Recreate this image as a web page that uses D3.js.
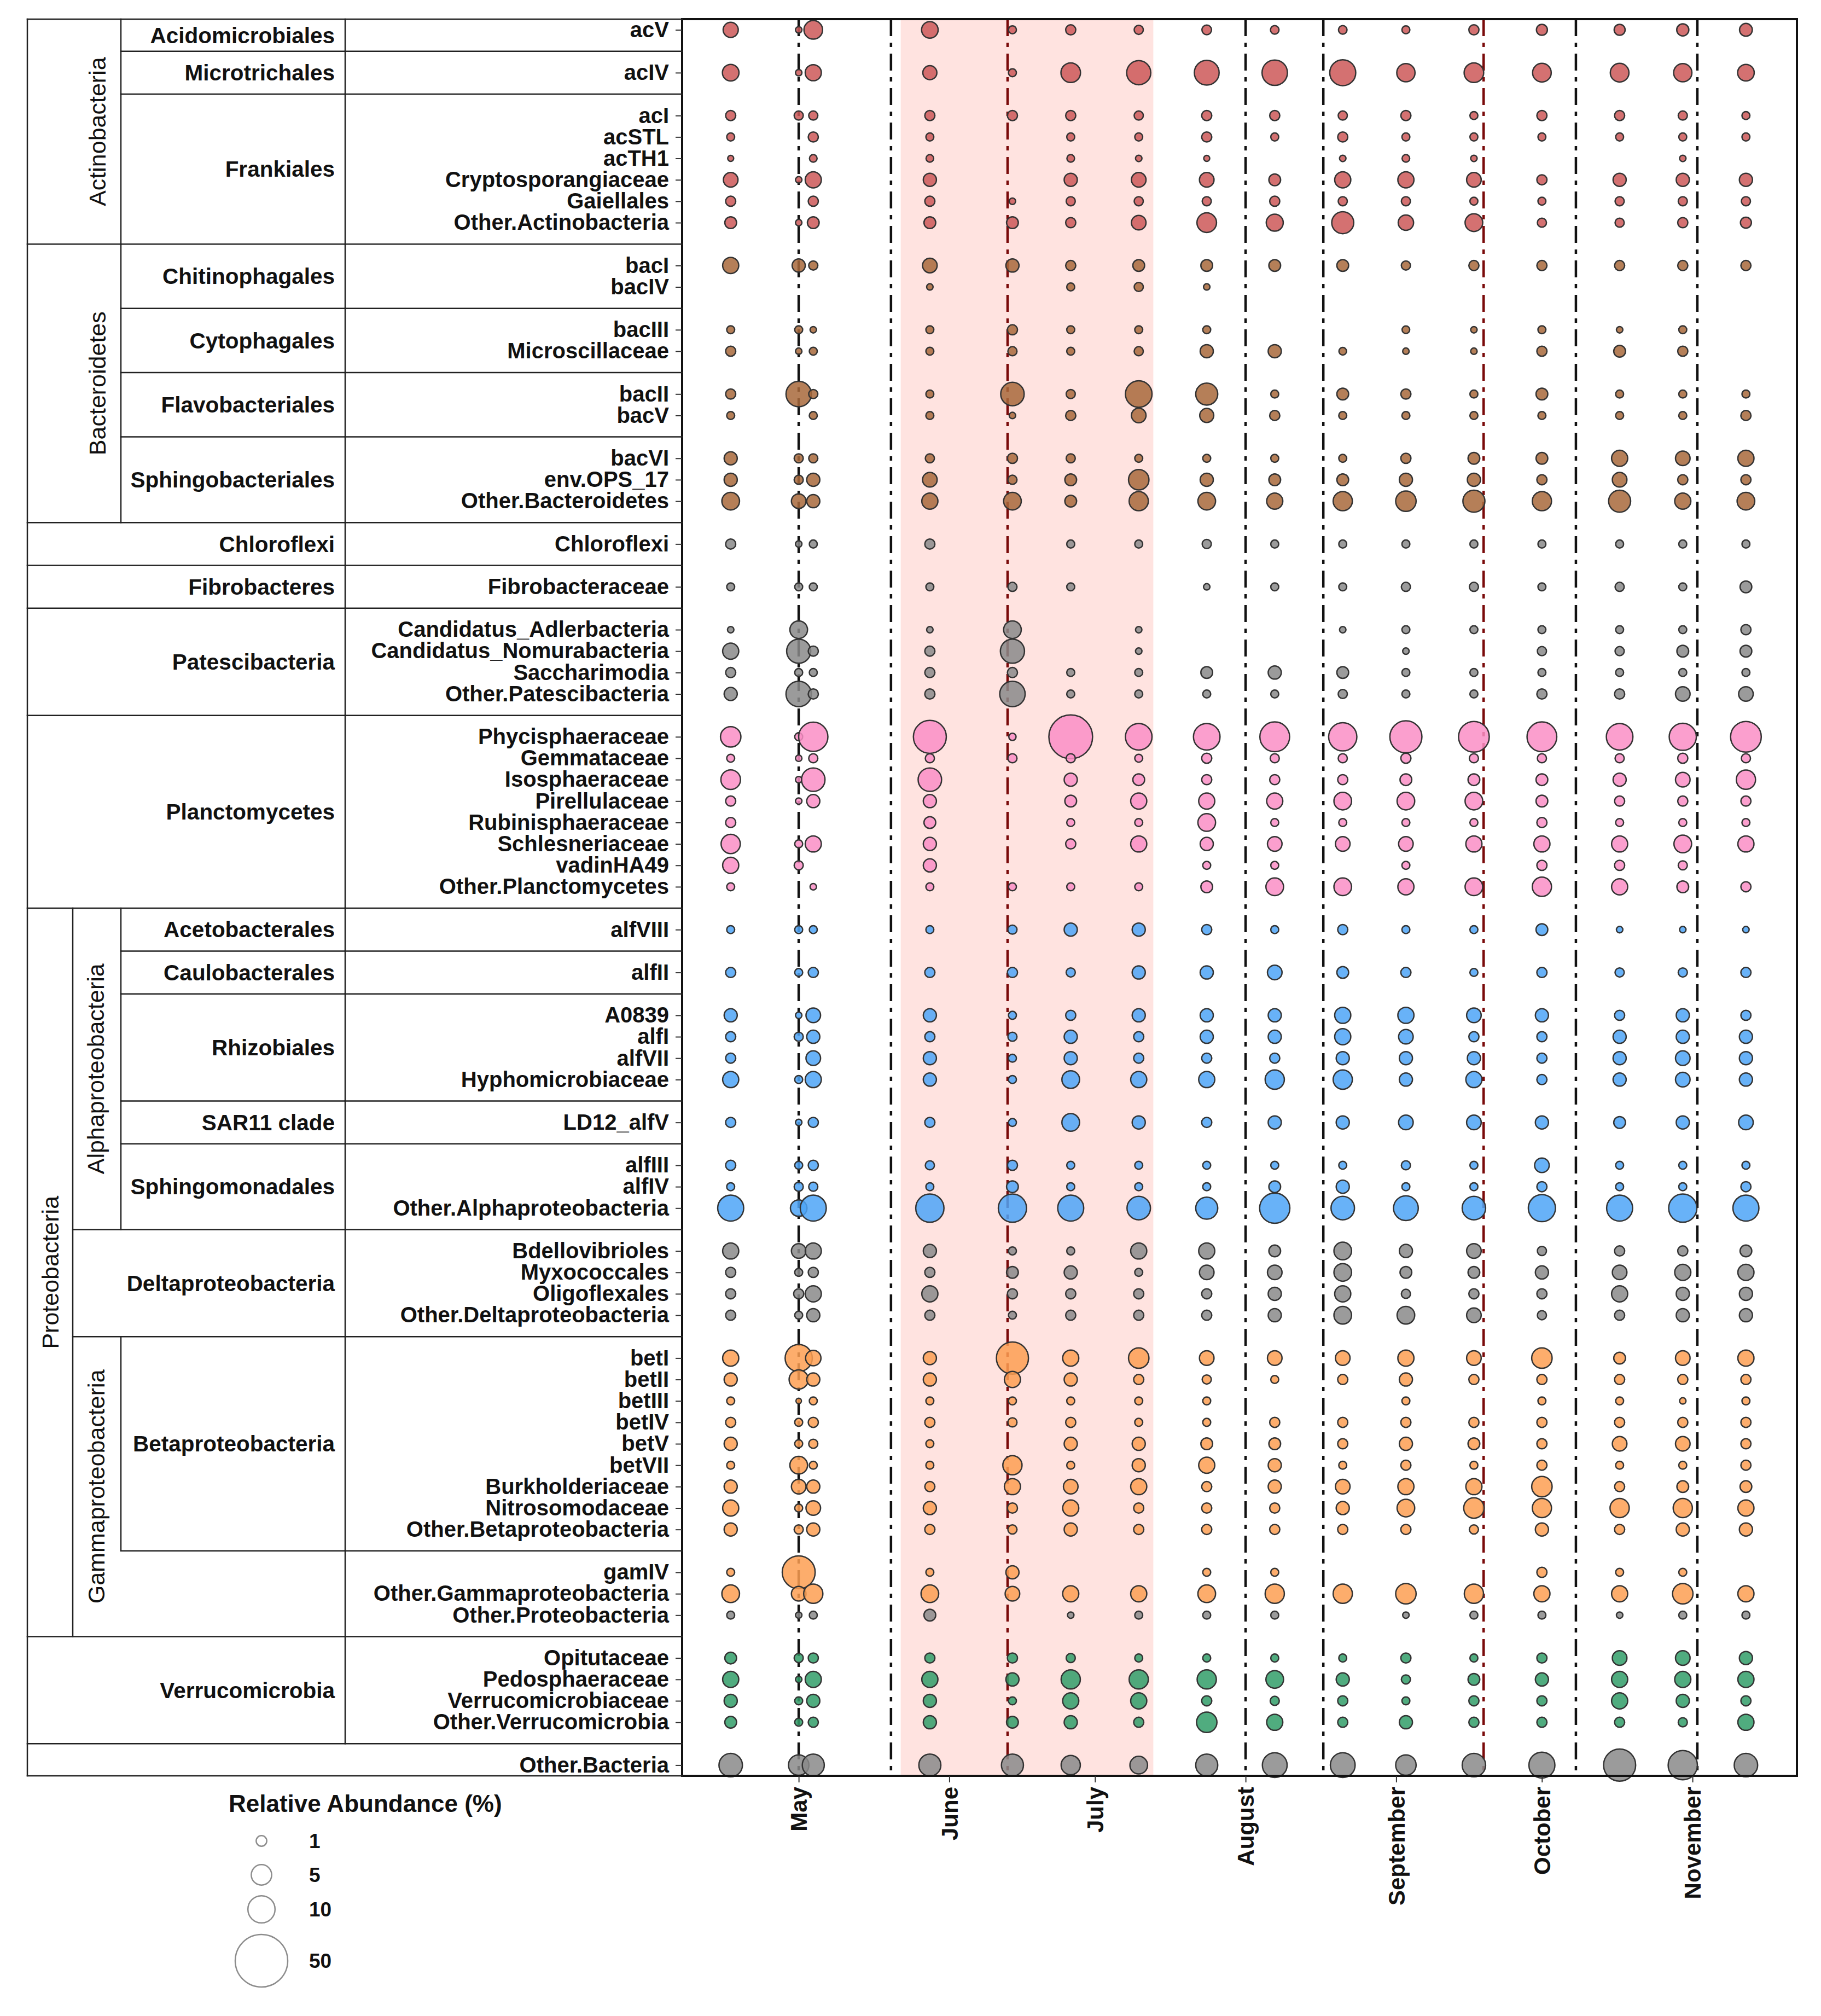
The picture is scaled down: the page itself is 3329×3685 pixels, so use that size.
<!DOCTYPE html>
<html>
<head>
<meta charset="utf-8">
<script src="https://cdn.jsdelivr.net/npm/d3@7"></script>
<style>
  html, body { margin: 0; padding: 0; background: #fff; }
  svg { display: block; }
</style>
</head>
<body>
<div id="chart"></div>
<script>
// sampling dates, one column of bubbles each
const sampleDates = ["2019-04-17", "2019-05-01", "2019-05-04", "2019-05-28", "2019-06-14", "2019-06-26",
  "2019-07-10", "2019-07-24", "2019-08-07", "2019-08-21", "2019-09-03", "2019-09-17",
  "2019-10-01", "2019-10-17", "2019-10-30", "2019-11-12"];
const monthTicks = ["2019-05-01", "2019-06-01", "2019-07-01", "2019-08-01", "2019-09-01", "2019-10-01", "2019-11-01"];
const blackLineDates = ["2019-05-01", "2019-05-20", "2019-08-01", "2019-08-17", "2019-10-08", "2019-11-02"];
const redLineDates = ["2019-06-13", "2019-09-19"];
const shadedPeriod = ["2019-05-22", "2019-07-13"];

// one entry per order cell of the table on the left
const orderLabels = ["Acidomicrobiales", "Microtrichales", "Frankiales", "Chitinophagales", "Cytophagales",
  "Flavobacteriales", "Sphingobacteriales", "Chloroflexi", "Fibrobacteres", "Patescibacteria", "Planctomycetes",
  "Acetobacterales", "Caulobacterales", "Rhizobiales", "SAR11 clade", "Sphingomonadales", "Deltaproteobacteria",
  "Betaproteobacteria", "", "Verrucomicrobia", ""];
const blockPhylum = ["Actinobacteria", "Actinobacteria", "Actinobacteria", "Bacteroidetes", "Bacteroidetes",
  "Bacteroidetes", "Bacteroidetes", "Chloroflexi", "Fibrobacteres", "Patescibacteria", "Planctomycetes",
  "Proteobacteria", "Proteobacteria", "Proteobacteria", "Proteobacteria", "Proteobacteria", "Proteobacteria",
  "Proteobacteria", "Proteobacteria", "Verrucomicrobia", "Other"];
const blockClass = ["", "", "", "", "", "", "", "", "", "", "",
  "Alphaproteobacteria", "Alphaproteobacteria", "Alphaproteobacteria", "Alphaproteobacteria", "Alphaproteobacteria",
  "Deltaproteobacteria", "Gammaproteobacteria", "Gammaproteobacteria", "", ""];
const blockTaxa = [
  ["acV"], ["acIV"],
  ["acI", "acSTL", "acTH1", "Cryptosporangiaceae", "Gaiellales", "Other.Actinobacteria"],
  ["bacI", "bacIV"], ["bacIII", "Microscillaceae"], ["bacII", "bacV"],
  ["bacVI", "env.OPS_17", "Other.Bacteroidetes"],
  ["Chloroflexi"], ["Fibrobacteraceae"],
  ["Candidatus_Adlerbacteria", "Candidatus_Nomurabacteria", "Saccharimodia", "Other.Patescibacteria"],
  ["Phycisphaeraceae", "Gemmataceae", "Isosphaeraceae", "Pirellulaceae", "Rubinisphaeraceae", "Schlesneriaceae",
    "vadinHA49", "Other.Planctomycetes"],
  ["alfVIII"], ["alfII"], ["A0839", "alfI", "alfVII", "Hyphomicrobiaceae"], ["LD12_alfV"],
  ["alfIII", "alfIV", "Other.Alphaproteobacteria"],
  ["Bdellovibrioles", "Myxococcales", "Oligoflexales", "Other.Deltaproteobacteria"],
  ["betI", "betII", "betIII", "betIV", "betV", "betVII", "Burkholderiaceae", "Nitrosomodaceae",
    "Other.Betaproteobacteria"],
  ["gamIV", "Other.Gammaproteobacteria", "Other.Proteobacteria"],
  ["Opitutaceae", "Pedosphaeraceae", "Verrucomicrobiaceae", "Other.Verrucomicrobia"],
  ["Other.Bacteria"]
];

// relative abundance (%), rows in the order of blockTaxa, columns in the order of sampleDates
const actinoValues = [
  [2.4, 0.3, 4, 3, 0.5, 0.9, 0.7, 0.8, 0.6, 0.6, 0.5, 0.9, 1.1, 1.1, 1.4, 1.6],
  [3, 0.3, 2.8, 2, 0.5, 4.5, 7.5, 8, 8.5, 9, 3.8, 4.5, 4, 4, 3.8, 3],
  [0.9, 0.7, 0.7, 0.9, 0.9, 0.9, 0.7, 0.9, 0.9, 0.7, 0.9, 0.5, 0.9, 0.9, 0.7, 0.5],
  [0.5, 0, 0.9, 0.5, 0, 0.5, 0.5, 0.9, 0.5, 0.9, 0.5, 0.5, 0.5, 0.5, 0.5, 0.5],
  [0.25, 0, 0.45, 0.45, 0, 0.45, 0.3, 0.25, 0, 0.3, 0.45, 0.3, 0, 0, 0.3, 0],
  [2.2, 0.3, 2.8, 1.7, 0, 1.7, 2.2, 2.2, 1.3, 2.8, 2.8, 2.2, 0.9, 1.7, 1.7, 1.7],
  [0.9, 0, 0.9, 0.9, 0.3, 0.7, 0.7, 0.7, 0.9, 0.7, 0.7, 0.5, 0.5, 0.7, 0.7, 0.7],
  [1.3, 0.3, 1.3, 1.3, 1.3, 0.9, 2.2, 4.5, 3.2, 6, 2.5, 3.5, 0.7, 0.7, 0.9, 1.1]
];
const bacteroValues = [
  [2.8, 1.7, 0.7, 2.2, 1.7, 0.9, 1.3, 1.3, 1.3, 1.3, 0.7, 0.9, 0.9, 0.9, 0.9, 0.9],
  [0, 0, 0, 0.3, 0, 0.5, 0.7, 0.3, 0, 0, 0, 0, 0, 0, 0, 0],
  [0.5, 0.5, 0.3, 0.5, 0.9, 0.5, 0.5, 0.5, 0, 0, 0.45, 0.3, 0.5, 0.3, 0.5, 0],
  [0.9, 0.3, 0.5, 0.5, 0.7, 0.5, 0.7, 1.7, 1.7, 0.45, 0.3, 0.3, 0.9, 1.3, 0.9, 0],
  [0.9, 8.5, 0.7, 0.5, 7, 0.7, 9.5, 6, 0.5, 1.3, 0.9, 0.5, 1.3, 0.5, 0.5, 0.5],
  [0.5, 0, 0.5, 0.5, 0.3, 0.9, 2.2, 2, 0.9, 0.5, 0.5, 0.5, 0.5, 0.5, 0.5, 0.9],
  [1.7, 0.7, 0.7, 0.7, 0.9, 0.7, 0.5, 0.5, 0.5, 0.5, 0.9, 1.3, 1.3, 2.8, 2.2, 2.8],
  [1.7, 0.7, 1.7, 2.2, 0.7, 1.3, 5, 1.7, 1.3, 1.3, 1.7, 1.7, 0.9, 2.2, 0.9, 0.9],
  [3.5, 2.2, 1.7, 2.8, 3.5, 1.3, 4.3, 3.5, 2.8, 4.3, 5, 6, 4.3, 6, 2.8, 3.5]
];
const chloroValues = [
  [0.9, 0.3, 0.5, 0.9, 0, 0.5, 0.5, 0.7, 0.5, 0.5, 0.5, 0.5, 0.5, 0.5, 0.5, 0.5]
];
const fibroValues = [
  [0.5, 0.5, 0.5, 0.5, 0.7, 0.5, 0, 0.3, 0.5, 0.5, 0.7, 0.7, 0.5, 0.7, 0.5, 1.3]
];
const patesciValues = [
  [0.3, 3.5, 0, 0.3, 3.5, 0, 0.3, 0, 0, 0.3, 0.5, 0.5, 0.5, 0.5, 0.5, 0.9],
  [2.8, 7.5, 0.9, 0.9, 7.5, 0, 0.3, 0, 0, 0, 0.3, 0, 0.7, 0.7, 1.3, 1.3],
  [0.9, 0.5, 0.5, 0.9, 0.9, 0.5, 0.5, 1.3, 1.7, 1.3, 0.5, 0.5, 0.5, 0.5, 0.5, 0.5],
  [1.7, 8.5, 0.9, 0.9, 8.5, 0.5, 0.5, 0.5, 0.5, 0.7, 0.5, 0.5, 0.9, 0.9, 2.2, 2.2]
];
const planctoValues = [
  [5, 0.5, 12, 16, 0.4, 32, 9.5, 9.5, 12.5, 11, 15, 13.5, 12.5, 9.5, 10, 13.5],
  [0.5, 0.3, 0.7, 0.7, 0.7, 0.7, 0.5, 0.9, 0.7, 0.7, 0.9, 0.7, 0.7, 0.7, 0.9, 0.7],
  [4.5, 0.3, 7, 7, 0, 1.7, 1.3, 0.9, 0.9, 0.9, 1.3, 1.3, 1.3, 1.7, 2.2, 4.3],
  [0.9, 0.3, 1.7, 1.7, 0, 1.3, 2.8, 2.8, 2.8, 3.5, 3.5, 3.5, 1.3, 0.9, 0.9, 0.9],
  [0.9, 0, 0, 1.3, 0, 0.5, 0.5, 3.5, 0.5, 0.5, 0.5, 0.5, 0.9, 0.5, 0.5, 0.5],
  [4.3, 0.5, 2.8, 1.7, 0, 0.9, 2.8, 1.7, 2.2, 2.2, 2.2, 2.8, 2.8, 2.8, 3.5, 2.8],
  [2.8, 0.7, 0, 1.7, 0, 0, 0, 0.5, 0.5, 0, 0.5, 0, 0.9, 0.9, 0.7, 0],
  [0.5, 0, 0.3, 0.5, 0.5, 0.5, 0.5, 1.3, 3.5, 3.5, 2.8, 3.5, 4.3, 2.8, 1.3, 0.9]
];
const alphaValues = [
  [0.5, 0.5, 0.5, 0.5, 0.7, 1.7, 1.7, 0.9, 0.5, 0.9, 0.5, 0.5, 1.3, 0.3, 0.3, 0.3],
  [0.9, 0.5, 0.9, 0.9, 0.9, 0.7, 1.7, 1.7, 2.2, 1.3, 0.9, 0.5, 0.9, 0.7, 0.7, 0.9],
  [1.7, 0.3, 2.2, 1.7, 0.5, 0.9, 1.7, 1.7, 1.7, 2.8, 2.8, 2.2, 1.7, 0.9, 1.7, 0.9],
  [0.9, 0.7, 1.7, 0.9, 0.7, 1.7, 0.9, 1.7, 1.7, 2.8, 2.2, 0.9, 0.9, 1.7, 1.7, 1.7],
  [0.9, 0, 2.2, 1.7, 0.5, 1.7, 0.9, 0.9, 0.9, 1.7, 1.7, 1.7, 0.9, 1.7, 2.2, 1.7],
  [2.8, 0.5, 2.8, 1.7, 0.5, 3.5, 2.8, 2.8, 4.3, 4.3, 1.7, 2.8, 0.9, 1.7, 2.2, 1.7],
  [0.9, 0.3, 0.9, 0.9, 0.5, 3.5, 1.7, 0.9, 1.7, 1.7, 2.2, 2.2, 1.7, 1.3, 1.7, 2.2],
  [0.9, 0.5, 0.9, 0.7, 0.9, 0.5, 0.5, 0.5, 0.5, 0.5, 0.7, 0.5, 2.2, 0.5, 0.5, 0.5],
  [0.5, 0.7, 0.7, 0.5, 1.3, 0.5, 0.5, 0.5, 1.3, 1.7, 0.5, 0.5, 0.9, 0.5, 0.5, 0.9],
  [9, 3, 9, 11, 11, 9, 7, 6, 13, 7, 8, 7, 10, 9, 11, 9]
];
const deltaValues = [
  [2.8, 2.2, 2.8, 1.7, 0.5, 0.5, 2.8, 2.8, 1.3, 3.5, 1.7, 2.2, 0.7, 0.9, 0.9, 1.3],
  [0.9, 0.5, 0.9, 0.9, 1.3, 1.7, 0.5, 2.2, 2.2, 3.5, 1.3, 1.3, 1.7, 2.2, 2.8, 2.8],
  [0.9, 0.9, 2.8, 2.8, 0.9, 0.9, 0.9, 0.9, 1.7, 2.8, 0.7, 0.9, 0.9, 2.8, 1.7, 1.7],
  [0.9, 0.5, 1.7, 0.9, 0.5, 0.9, 0.9, 0.9, 1.7, 3.5, 3.5, 2.2, 0.7, 0.9, 1.7, 1.7]
];
const betaValues = [
  [2.8, 10, 2.5, 1.7, 15, 2.8, 5, 2.2, 2.2, 2.2, 2.8, 2.2, 5, 1.3, 2.2, 2.8],
  [1.7, 4.3, 1.7, 1.7, 2.8, 1.7, 0.9, 0.7, 0.5, 0.9, 1.7, 0.9, 0.9, 0.9, 0.9, 0.9],
  [0.5, 0.2, 0.5, 0.5, 0.5, 0.5, 0.5, 0.5, 0, 0, 0.5, 0, 0.5, 0.5, 0.3, 0.5],
  [0.9, 0.5, 0.9, 0.9, 0.7, 0.9, 0.5, 0.5, 0.9, 0.9, 0.9, 0.9, 0.9, 0.9, 0.9, 0.9],
  [1.7, 0.5, 0.7, 0.5, 0, 1.7, 1.7, 1.3, 1.3, 0.9, 1.7, 1.3, 0.9, 2.2, 2.2, 0.9],
  [0.5, 3.5, 0.5, 0.5, 4.3, 0.5, 1.7, 2.8, 1.7, 0.5, 0.9, 0.5, 0.9, 0.5, 0.5, 0.9],
  [1.7, 2.2, 1.7, 0.9, 2.8, 2.2, 2.8, 0.9, 1.7, 2.2, 2.8, 2.8, 5, 0.9, 1.3, 1.3],
  [2.8, 0.5, 2.2, 1.7, 0.9, 2.8, 0.9, 0.9, 0.9, 1.7, 3.5, 5, 4.3, 4.3, 4.3, 2.8],
  [1.7, 0.7, 1.7, 0.9, 0.7, 1.7, 0.9, 0.9, 0.9, 0.9, 0.9, 0.7, 1.7, 0.9, 1.7, 1.7]
];
const gammaValues = [
  [0.5, 16, 0, 0.5, 1.7, 0, 0, 0.5, 0.5, 0, 0, 0, 0.9, 0.5, 0.5, 0],
  [3.5, 2.2, 4.3, 3.5, 2.2, 2.8, 2.8, 3.5, 4.3, 4.3, 5, 4.3, 2.8, 2.8, 5, 2.8]
];
const proteoOtherValues = [
  [0.5, 0.3, 0.5, 1.3, 0, 0.3, 0.5, 0.5, 0.5, 0, 0.3, 0.5, 0.5, 0.3, 0.5, 0.5]
];
const verrucoValues = [
  [1.3, 0.7, 0.9, 0.9, 0.9, 0.7, 0.5, 0.5, 0.5, 0.5, 0.9, 0.5, 0.9, 2.2, 2.2, 1.7],
  [2.8, 0.3, 2.8, 2.8, 1.7, 4.3, 4.3, 4.3, 3.5, 1.7, 0.7, 1.3, 1.7, 2.8, 2.8, 2.8],
  [1.7, 0.5, 1.7, 1.7, 0.5, 2.8, 2.8, 0.9, 0.7, 0.9, 0.5, 0.9, 0.9, 2.8, 1.7, 0.9],
  [1.3, 0.5, 0.9, 1.7, 1.3, 1.7, 0.9, 5, 2.8, 0.9, 1.7, 0.9, 0.9, 0.9, 0.7, 2.8]
];
const otherValues = [
  [7, 5, 6, 6, 6, 4.3, 3.5, 6, 8, 8, 5, 7, 9, 15, 12, 7]
];
const legendValues = [1, 5, 10, 50];

// fill colour of each value group, same order as the value arrays
const seriesFill = [
  [actinoValues, '#cd5858'], [bacteroValues, '#a8693b'], [chloroValues, '#8a8a8a'],
  [fibroValues, '#8a8a8a'], [patesciValues, '#8a8a8a'], [planctoValues, '#fa8ec6'],
  [alphaValues, '#4ea5f7'], [deltaValues, '#8a8a8a'], [betaValues, '#fd9f52'],
  [gammaValues, '#fd9f52'], [proteoOtherValues, '#8a8a8a'], [verrucoValues, '#319d68'],
  [otherValues, '#8a8a8a']
];

const width = 3329;
const height = 3685;
const fontFamily = "'Liberation Sans', Arial, Helvetica, sans-serif";
const plot = { left: 1247, right: 3285, top: 35, bottom: 3246 };
const table = { left: 50, proteo: 133, cls: 221, order: 631, labelRight: 612 };

const parseDate = d3.utcParse('%Y-%m-%d');

// lay out rows: one blank row between consecutive order blocks
let rows = [];
let blockStart = [];
let blockEnd = [];
let idx = 0;
blockTaxa.forEach((taxa, b) => {
  if (b > 0) idx++;
  blockStart.push(idx);
  taxa.forEach(t => rows.push({ taxon: t, index: idx++, block: b }));
  blockEnd.push(idx - 1);
});
const nRows = idx;

let rowValues = [];
let rowFill = [];
seriesFill.forEach(([values, fill]) => {
  values.forEach(v => { rowValues.push(v); rowFill.push(fill); });
});
rows.forEach((r, i) => { r.values = rowValues[i]; r.fill = rowFill[i]; });

const x = d3.scaleUtc()
  .domain([Date.UTC(2019, 3, 7), Date.UTC(2019, 10, 22, 12)])
  .range([plot.left, plot.right]);
const y = d3.scaleLinear()
  .domain([-0.5, nRows - 0.5])
  .range([plot.top, plot.bottom]);
const radius = d3.scalePow()
  .exponent(0.41)
  .domain([0, 50])
  .range([0, 48]);

const svg = d3.select('#chart')
  .append('svg')
  .attr('width', width)
  .attr('height', height)
  .style('font-family', fontFamily);

svg.append('rect')
  .attr('width', width)
  .attr('height', height)
  .attr('fill', '#fff');

// shaded period
svg.append('rect')
  .attr('x', x(parseDate(shadedPeriod[0])))
  .attr('y', plot.top)
  .attr('width', x(parseDate(shadedPeriod[1])) - x(parseDate(shadedPeriod[0])))
  .attr('height', plot.bottom - plot.top)
  .attr('fill', '#ffe3e0');

// vertical dash-dot event lines
let eventLines = blackLineDates.map(d => ({ date: d, color: '#111' }))
  .concat(redLineDates.map(d => ({ date: d, color: '#7a0a0a' })));
svg.append('g')
  .selectAll('line')
  .data(eventLines)
  .enter()
  .append('line')
  .attr('x1', d => x(parseDate(d.date)))
  .attr('x2', d => x(parseDate(d.date)))
  .attr('y1', plot.top)
  .attr('y2', plot.bottom)
  .attr('stroke', d => d.color)
  .attr('stroke-width', 4.5)
  .attr('stroke-dasharray', '31,12,8,12');

// bubbles
let points = [];
rows.forEach(r => {
  r.values.forEach((v, j) => {
    if (v > 0) points.push({ date: sampleDates[j], index: r.index, value: v, fill: r.fill });
  });
});
svg.append('g')
  .selectAll('circle')
  .data(points)
  .enter()
  .append('circle')
  .attr('cx', d => x(parseDate(d.date)))
  .attr('cy', d => y(d.index))
  .attr('r', d => radius(d.value))
  .attr('fill', d => d.fill)
  .attr('fill-opacity', 0.85)
  .attr('stroke', '#333')
  .attr('stroke-width', 2.5);

// panel border
svg.append('rect')
  .attr('x', plot.left)
  .attr('y', plot.top)
  .attr('width', plot.right - plot.left)
  .attr('height', plot.bottom - plot.top)
  .attr('fill', 'none')
  .attr('stroke', '#111')
  .attr('stroke-width', 4);

// y axis: taxon labels
const yAxis = d3.axisLeft(y)
  .tickValues(rows.map(r => r.index))
  .tickFormat(i => rows.find(r => r.index === i).taxon)
  .tickSize(12)
  .tickPadding(12);
const yAxisG = svg.append('g')
  .attr('transform', `translate(${plot.left},0)`)
  .call(yAxis);
yAxisG.select('.domain').remove();
yAxisG.selectAll('line').attr('stroke', '#333').attr('stroke-width', 2);
yAxisG.selectAll('text')
  .attr('font-family', fontFamily)
  .attr('font-size', 40)
  .attr('font-weight', 'bold')
  .attr('fill', '#111');

// x axis: months
const xAxis = d3.axisBottom(x)
  .tickValues(monthTicks.map(parseDate))
  .tickFormat(d3.utcFormat('%B'))
  .tickSize(12);
const xAxisG = svg.append('g')
  .attr('transform', `translate(0,${plot.bottom})`)
  .call(xAxis);
xAxisG.select('.domain').remove();
xAxisG.selectAll('line').attr('stroke', '#333').attr('stroke-width', 2);
xAxisG.selectAll('text')
  .attr('transform', 'rotate(-90)')
  .attr('x', -20)
  .attr('y', 0)
  .attr('dy', '0.35em')
  .attr('text-anchor', 'end')
  .attr('font-family', fontFamily)
  .attr('font-size', 42)
  .attr('font-weight', 'bold')
  .attr('fill', '#111');

// taxonomy table
const blockTop = b => b === 0 ? y(-0.5) : y(blockStart[b] - 1);
const blockBottom = b => b === blockTaxa.length - 1 ? y(nRows - 0.5) : y(blockEnd[b] + 1);
const depth = b => {
  const p = blockPhylum[b];
  if (p === 'Actinobacteria' || p === 'Bacteroidetes') return 2;
  if (p === 'Proteobacteria') return blockClass[b] === 'Deltaproteobacteria' ? 1 : 2;
  return 0;
};

let tableLines = [];
// outer frame (right side is the panel border)
tableLines.push([table.left, plot.top, plot.left, plot.top]);
tableLines.push([table.left, plot.bottom, plot.left, plot.bottom]);
tableLines.push([table.left, plot.top, table.left, plot.bottom]);
blockTaxa.forEach((_, b) => {
  if (b > 0) {
    let left = table.cls;
    if (blockPhylum[b] !== blockPhylum[b - 1]) left = table.left;
    else if (blockClass[b] !== blockClass[b - 1]) left = table.proteo;
    tableLines.push([left, blockTop(b), plot.left, blockTop(b)]);
  }
  if (depth(b) === 2 && orderLabels[b] !== '') {
    tableLines.push([table.cls, blockTop(b), table.cls, blockBottom(b)]);
  }
  if (b < blockTaxa.length - 1) {
    tableLines.push([table.order, blockTop(b), table.order, blockBottom(b)]);
  }
});
const proteoBlocks = blockPhylum.map((p, b) => p === 'Proteobacteria' ? b : -1).filter(b => b >= 0);
const proteoTop = blockTop(proteoBlocks[0]);
const proteoBottom = blockBottom(proteoBlocks[proteoBlocks.length - 1]);
tableLines.push([table.proteo, proteoTop, table.proteo, proteoBottom]);

svg.append('g')
  .selectAll('line')
  .data(tableLines)
  .enter()
  .append('line')
  .attr('x1', d => d[0])
  .attr('y1', d => d[1])
  .attr('x2', d => d[2])
  .attr('y2', d => d[3])
  .attr('stroke', '#222')
  .attr('stroke-width', 2.5)
  .attr('stroke-linecap', 'square');

// order labels
svg.append('g')
  .selectAll('text')
  .data(orderLabels.map((label, b) => ({ label, b })).filter(d => d.label !== ''))
  .enter()
  .append('text')
  .attr('x', table.labelRight)
  .attr('y', d => (blockTop(d.b) + blockBottom(d.b)) / 2)
  .attr('dy', '0.35em')
  .attr('text-anchor', 'end')
  .attr('font-size', 40.5)
  .attr('font-weight', 'bold')
  .attr('fill', '#111')
  .text(d => d.label);

// rotated phylum / class labels
function spanOf(test) {
  let bs = blockTaxa.map((_, b) => b).filter(test);
  return [blockTop(bs[0]), blockBottom(bs[bs.length - 1])];
}
let rotated = [
  { label: 'Actinobacteria', cx: 178, span: spanOf(b => blockPhylum[b] === 'Actinobacteria') },
  { label: 'Bacteroidetes', cx: 178, span: spanOf(b => blockPhylum[b] === 'Bacteroidetes') },
  { label: 'Proteobacteria', cx: 92, span: spanOf(b => blockPhylum[b] === 'Proteobacteria') },
  { label: 'Alphaproteobacteria', cx: 175, span: spanOf(b => blockClass[b] === 'Alphaproteobacteria') },
  { label: 'Gammaproteobacteria', cx: 176, span: spanOf(b => blockClass[b] === 'Gammaproteobacteria') }
];
svg.append('g')
  .selectAll('text')
  .data(rotated)
  .enter()
  .append('text')
  .attr('transform', d => `translate(${d.cx},${(d.span[0] + d.span[1]) / 2}) rotate(-90)`)
  .attr('dy', '0.35em')
  .attr('text-anchor', 'middle')
  .attr('font-size', 43)
  .attr('fill', '#111')
  .text(d => d.label);

// size legend
const legend = svg.append('g');
legend.append('text')
  .attr('x', 418)
  .attr('y', 3312)
  .attr('font-size', 44)
  .attr('font-weight', 'bold')
  .attr('fill', '#111')
  .text('Relative Abundance (%)');
const legendY = [3365, 3427, 3490, 3584];
let legendItems = legend.selectAll('g.item')
  .data(legendValues)
  .enter()
  .append('g')
  .attr('class', 'item')
  .attr('transform', (d, i) => `translate(478,${legendY[i]})`);
legendItems.append('circle')
  .attr('r', d => radius(d))
  .attr('fill', '#fff')
  .attr('stroke', '#8c8c8c')
  .attr('stroke-width', 2.5);
legendItems.append('text')
  .attr('x', 87)
  .attr('dy', '0.36em')
  .attr('font-size', 37)
  .attr('font-weight', 'bold')
  .attr('fill', '#111')
  .text(d => d);
</script>
</body>
</html>
